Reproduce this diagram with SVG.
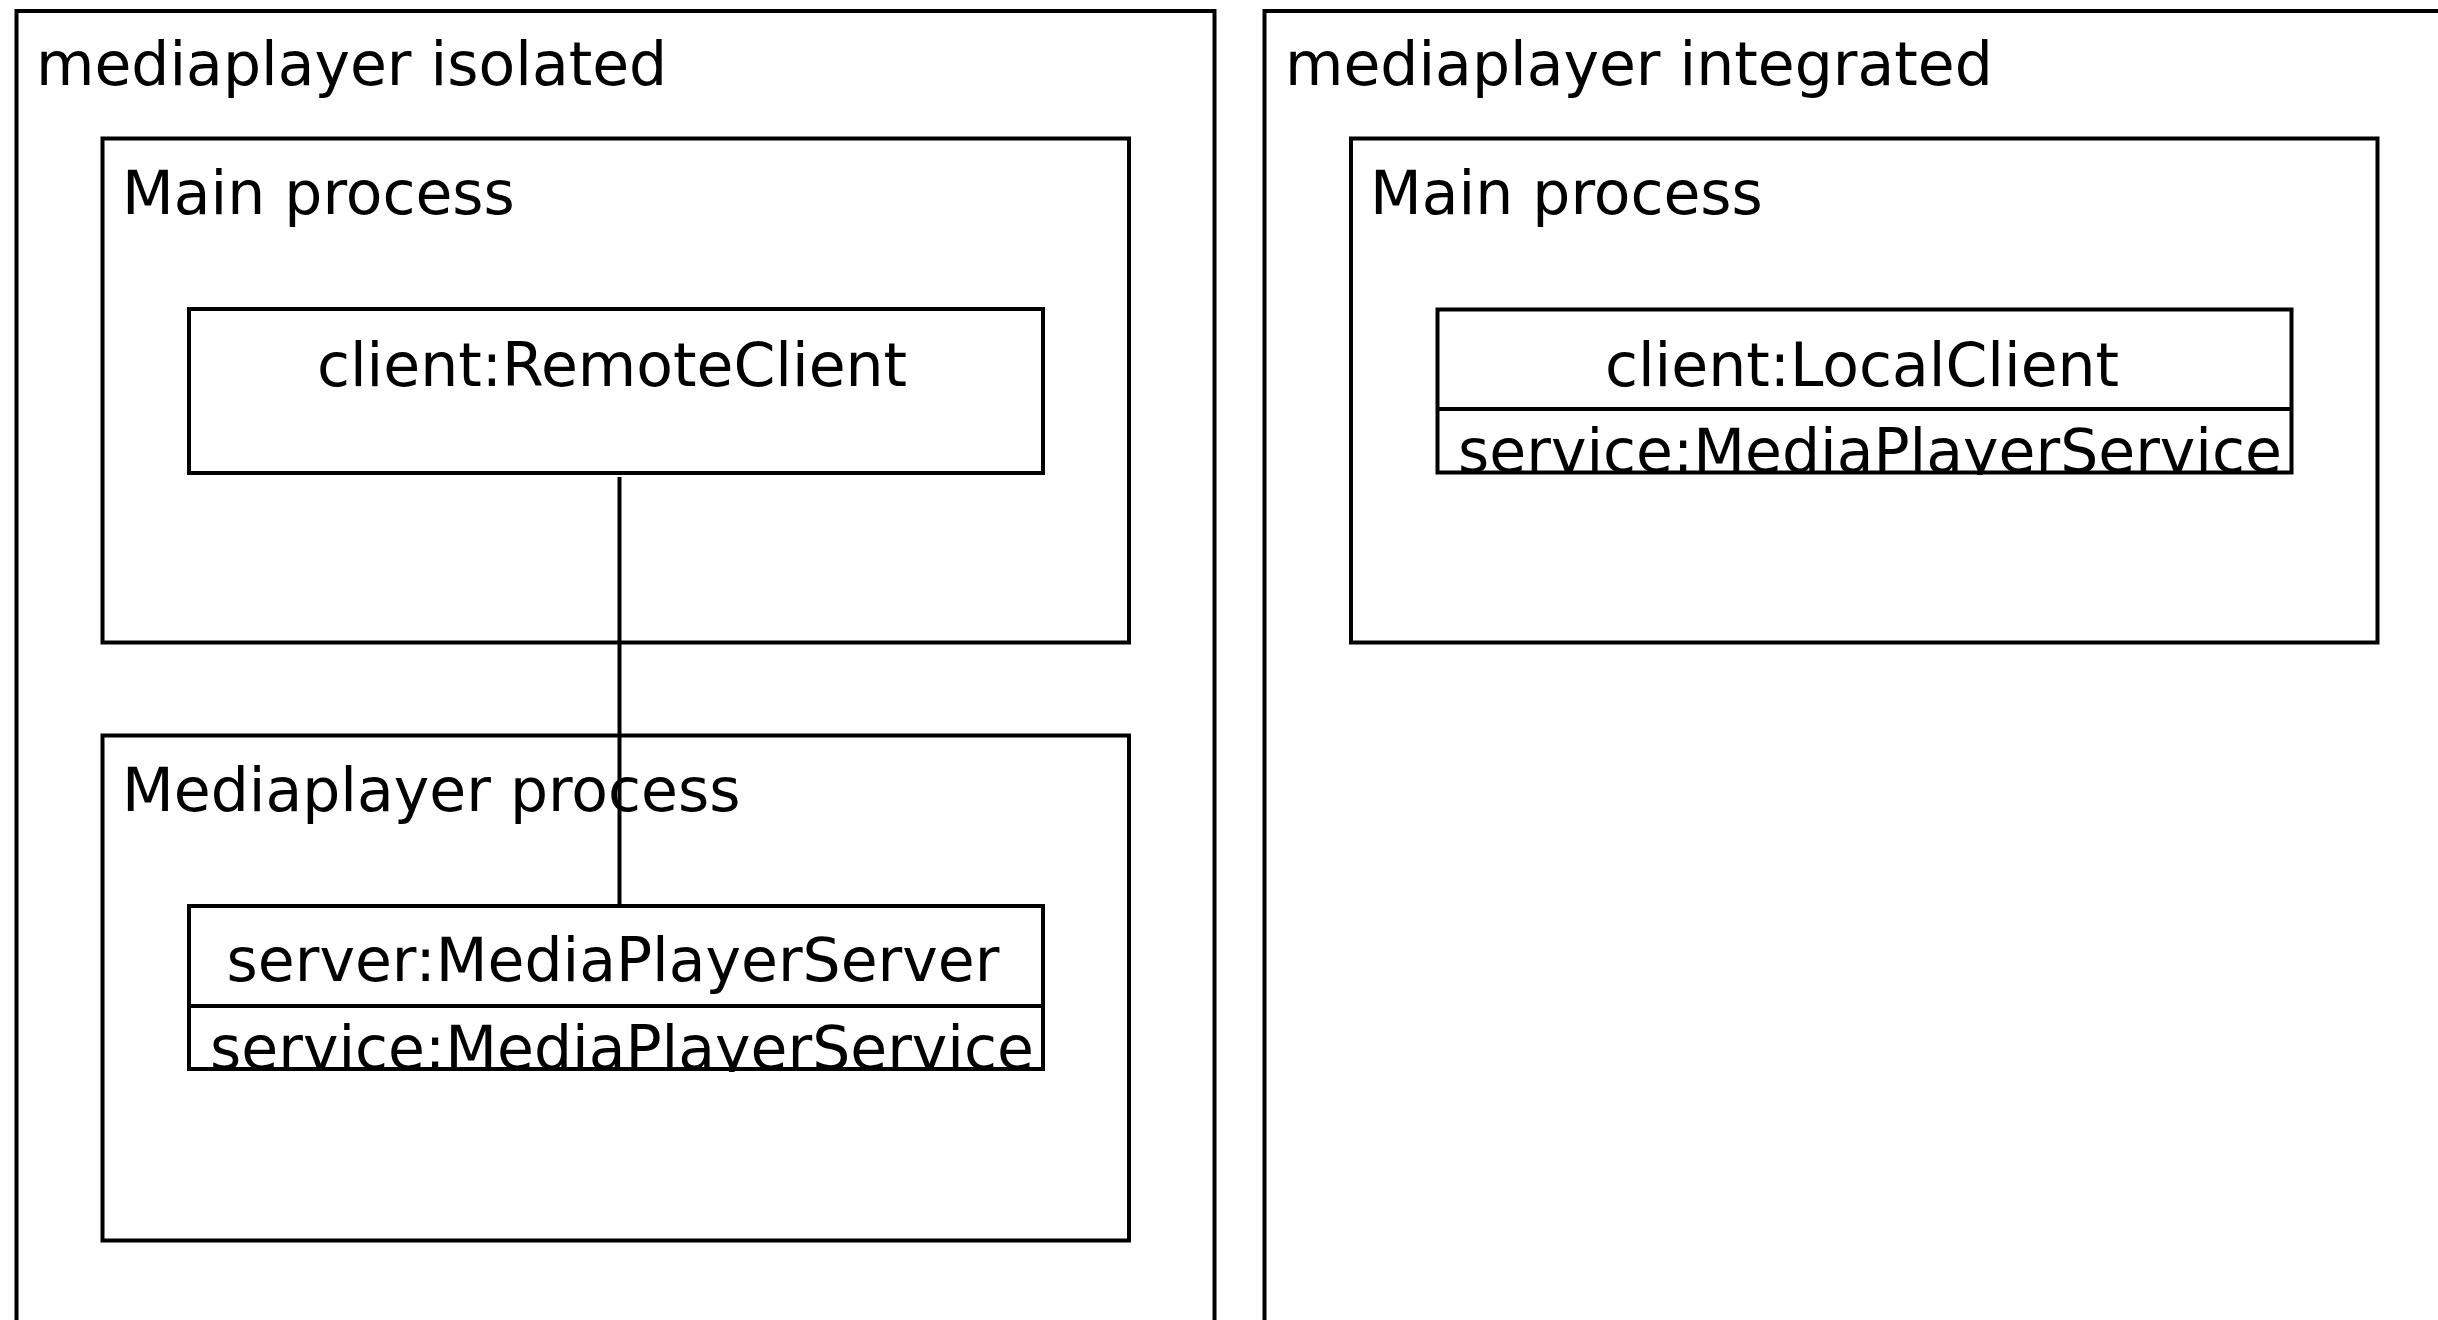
<svg xmlns="http://www.w3.org/2000/svg" width="2438" height="1320" viewBox="0 0 2438 1320">
  <style>
    .frame { fill: none; stroke: #000; stroke-width: 4; }
    .box { fill: #fff; stroke: #000; stroke-width: 4; }
    .label { font-family: "DejaVu Sans", sans-serif; font-size: 60px; fill: #000; }
    .mid { text-anchor: middle; }
    .wire { stroke: #000; stroke-width: 4; fill: none; }
  </style>
  <defs>
    <clipPath id="clip-server-service">
      <rect x="186" y="1006" width="859" height="66"/>
    </clipPath>
    <clipPath id="clip-local-service">
      <rect x="1435" y="409" width="859" height="66"/>
    </clipPath>
  </defs>
  <rect x="0" y="0" width="2438" height="1320" fill="#fff"/>

  <!-- isolated deployment -->
  <g id="isolated">
    <rect class="frame" x="16.5" y="11" width="1198" height="1340"/>
    <text class="label" x="36" y="85">mediaplayer isolated</text>
  </g>
  <g id="isolated-main-process">
    <rect class="frame" x="102.5" y="138.5" width="1026.5" height="504"/>
    <text class="label" x="122" y="214">Main process</text>
  </g>
  <g id="isolated-mediaplayer-process">
    <rect class="frame" x="102.5" y="735.5" width="1026.5" height="505"/>
    <text class="label" x="122" y="811">Mediaplayer process</text>
  </g>
  <g id="remote-client">
    <rect class="box" x="189" y="309" width="854" height="164"/>
    <text class="label mid" x="612" y="386">client:RemoteClient</text>
  </g>
  <g id="media-player-server">
    <rect class="box" x="189" y="906" width="854" height="163"/>
    <line class="wire" x1="189" y1="1006" x2="1043" y2="1006"/>
    <text class="label mid" x="613" y="981">server:MediaPlayerServer</text>
    <text class="label mid" x="622" y="1069" clip-path="url(#clip-server-service)">service:MediaPlayerService</text>
  </g>

  <!-- integrated deployment -->
  <g id="integrated">
    <rect class="frame" x="1264.5" y="11" width="1200" height="1340"/>
    <text class="label" x="1285" y="85">mediaplayer integrated</text>
  </g>
  <g id="integrated-main-process">
    <rect class="frame" x="1351" y="138.5" width="1026.5" height="504"/>
    <text class="label" x="1370" y="214">Main process</text>
  </g>
  <g id="local-client">
    <rect class="box" x="1437.5" y="309.5" width="854" height="163"/>
    <line class="wire" x1="1437.5" y1="409" x2="2291.5" y2="409"/>
    <text class="label mid" x="1862" y="386">client:LocalClient</text>
    <text class="label mid" x="1870" y="472" clip-path="url(#clip-local-service)">service:MediaPlayerService</text>
  </g>

  <!-- connectors -->
  <g id="connectors">
    <line class="wire" x1="619.5" y1="477" x2="619.5" y2="906"/>
  </g>
</svg>
